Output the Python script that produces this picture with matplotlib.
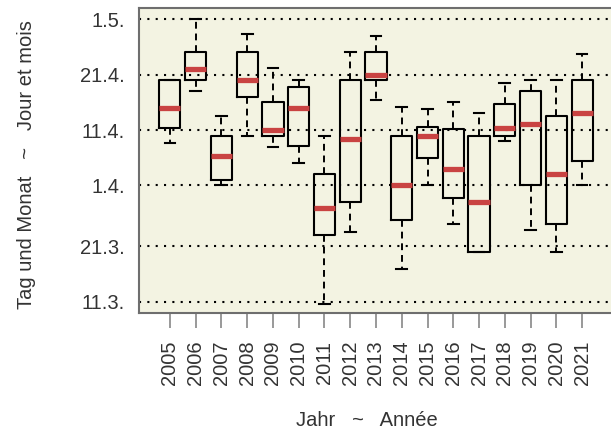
import matplotlib
matplotlib.use("Agg")
import matplotlib.pyplot as plt

plt.rcParams['font.family'] = ['Liberation Sans', 'DejaVu Sans']

# day of year (non-leap): 70 = 11.3., 121 = 1.5.
years = list(range(2005, 2022))
whislo = [98.6, 108, 91, 100, 98, 95, 69.6, 82.6, 106.4, 76, 91, 84, 79, 99, 83, 79, 91]
q1 = [101.4, 110, 92, 107, 100, 98.2, 82, 88, 110, 84.7, 96, 88.7, 79, 100, 91, 84, 95.4]
med = [105, 112, 96.4, 110, 101, 105, 87, 99.4, 111, 91, 100, 94, 88, 101.4, 102, 93, 104]
q3 = [110, 115, 100, 115, 106, 108.7, 93, 110, 115, 100, 101.5, 101.2, 100, 105.7, 108, 103.5, 110]
whishi = [110, 121, 103.6, 118.3, 112.2, 110, 100, 115, 118, 105.2, 104.8, 106, 104, 109.5, 110, 110, 114.7]

ytick_days = [70, 80, 91, 101, 111, 121]
ytick_labels = ['11.3.', '21.3.', '1.4.', '11.4.', '21.4.', '1.5.']

bg = '#f3f3e2'
txt = '#333333'
fs = 14.5

stats = []
for i, y in enumerate(years):
    stats.append(dict(label=str(y), whislo=whislo[i], q1=q1[i], med=med[i],
                      q3=q3[i], whishi=whishi[i], fliers=[]))

fig = plt.figure(figsize=(6.11, 4.34), dpi=100)
ax = fig.add_axes([139/611, 121/434, 474/611, 305/434])
ax.set_facecolor(bg)

for d in ytick_days:
    ax.axhline(d, color='black', lw=1.5, ls=(0, (1, 3)), zorder=0)

ax.bxp(stats, positions=range(1, len(years) + 1), widths=0.82, showfliers=False,
       patch_artist=False, capwidths=0.42,
       boxprops=dict(color='black', lw=1.5),
       whiskerprops=dict(color='black', lw=1.4, ls=(0, (3.5, 2.5))),
       capprops=dict(color='black', lw=1.5),
       medianprops=dict(color='#c94342', lw=3.8, solid_capstyle='butt'))

ax.set_xlim(-0.2, 18.2)
ax.set_ylim(68.0, 123.0)
ax.set_yticks(ytick_days)
ax.set_yticklabels(ytick_labels)
ax.set_xticks(range(1, len(years) + 1))
ax.set_xticklabels([str(y) for y in years], rotation=90)

ax.tick_params(axis='y', length=0, pad=10, labelsize=fs, labelcolor=txt)
ax.tick_params(axis='x', length=11, width=1.2, color='#888888', pad=9,
               labelsize=fs, labelcolor=txt)
for s in ax.spines.values():
    s.set_color('#6e6e6e')
    s.set_linewidth(1.5)

fig.text(367/611, 1 - 420/434, 'Jahr   ~   Année', ha='center', va='center',
         fontsize=fs, color=txt)
fig.text(27/611, 1 - 165/434, 'Tag und Monat   ~   Jour et mois', ha='center',
         va='center', rotation=90, fontsize=fs, color=txt)

fig.savefig('out.png', dpi=100, facecolor='white')
